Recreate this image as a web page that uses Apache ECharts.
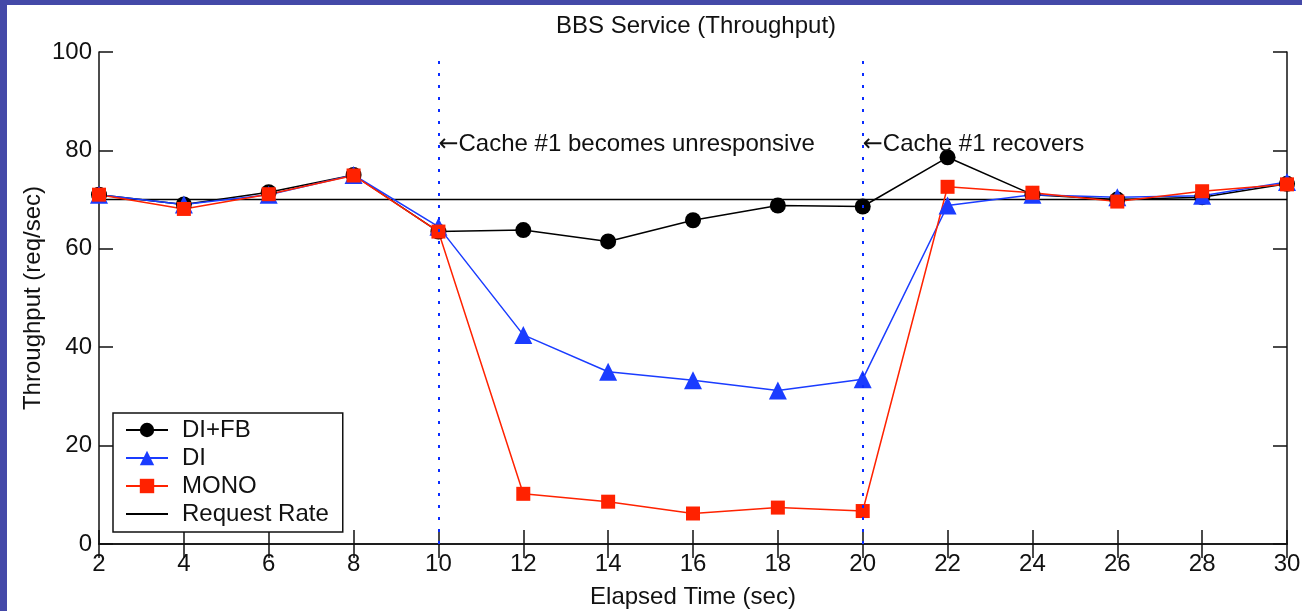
<!DOCTYPE html>
<html>
<head>
<meta charset="utf-8">
<script src="https://cdn.jsdelivr.net/npm/echarts@6/dist/echarts.min.js"></script>
<style>
html,body{margin:0;padding:0;background:#fff;overflow:hidden;}
#chart{width:1302px;height:611px;}
</style>
</head>
<body>
<div id="chart"></div>
<script>
const times = [2,4,6,8,10,12,14,16,18,20,22,24,26,28,30];
const diFb = [71,69,71.5,75,63.5,63.8,61.5,65.8,68.8,68.6,78.6,71,70,70.5,73.2];
const di   = [71,69,71,75,64.5,42.5,35,33.3,31.2,33.5,68.8,71,70.5,70.8,73.6];
const mono = [71,68.1,71.1,74.9,63.5,10.2,8.6,6.2,7.4,6.7,72.6,71.4,69.6,71.7,73.1];
const requestRate = 70;
const eventTimes = [10,20];
const eventLabels = ['Cache #1 becomes unresponsive','Cache #1 recovers'];
const eventLabelY = 81.2;
const xTicks = [2,4,6,8,10,12,14,16,18,20,22,24,26,28,30];
const yTicks = [0,20,40,60,80,100];

const FONT = 'Liberation Sans, Arial, sans-serif';
const chart = echarts.init(document.getElementById('chart'));
const pair = (xs, ys) => xs.map((x,i)=>[x, ys[i]]);

const axisCommon = {
  axisLine:{show:true,lineStyle:{color:'#111',width:1.5}},
  axisTick:{show:true,inside:true,length:14,lineStyle:{color:'#111',width:1.5}},
  splitLine:{show:false}
};

chart.setOption({
  backgroundColor:'#fff',
  animation:false,
  title:{text:'BBS Service (Throughput)',left:691,top:9,textAlign:'center',
    textStyle:{fontFamily:FONT,fontSize:24,fontWeight:'normal',color:'#111'}},
  grid:{left:99,right:15,top:52,bottom:67,containLabel:false,outerBoundsMode:'none'},
  graphic:[
    {type:'rect',shape:{x:0,y:0,width:1302,height:5},style:{fill:'#4449a8'},z:100},
    {type:'rect',shape:{x:0,y:0,width:7,height:611},style:{fill:'#4449a8'},z:100}
  ],
  legend:{
    orient:'vertical',left:113,top:413,
    padding:[5,14,6,12],itemGap:4,itemWidth:42,itemHeight:18,itemTextGap:14,
    backgroundColor:'#fff',borderColor:'#111',borderWidth:1.5,
    textStyle:{fontFamily:FONT,fontSize:24,color:'#111',lineHeight:24,padding:[0,0,0,9]},
    data:['DI+FB','DI','MONO',{name:'Request Rate',itemStyle:{opacity:0}}]
  },
  xAxis:[
    Object.assign({type:'value',min:2,max:30,interval:2,position:'bottom',
      name:'Elapsed Time (sec)',nameLocation:'middle',nameGap:41,nameMoveOverlap:false,
      nameTextStyle:{fontFamily:FONT,fontSize:24,color:'#111'},
      axisLabel:{fontFamily:FONT,fontSize:24,color:'#111',margin:8}},axisCommon),
    Object.assign({type:'value',min:2,max:30,interval:2,position:'top',
      axisLabel:{show:false}},axisCommon)
  ],
  yAxis:[
    Object.assign({type:'value',min:0,max:100,interval:20,position:'left',
      name:'Throughput (req/sec)',nameLocation:'middle',nameGap:54,nameMoveOverlap:false,
      nameTextStyle:{fontFamily:FONT,fontSize:24,color:'#111'},
      axisLabel:{fontFamily:FONT,fontSize:24,color:'#111',margin:7}},axisCommon),
    Object.assign({type:'value',min:0,max:100,interval:20,position:'right',
      axisLabel:{show:false}},axisCommon)
  ],
  series:[
    {name:'events',type:'line',data:[],silent:true,
      markLine:{symbol:['none','none'],silent:true,
        lineStyle:{color:'#0a2cff',type:[3,9],width:2},label:{show:false},
        data:eventTimes.map(t=>({xAxis:t}))},
      markPoint:{symbol:'circle',symbolSize:0,silent:true,
        label:{show:true,position:'right',distance:0,fontFamily:FONT,fontSize:24,color:'#111',
          rich:{a:{fontFamily:'DejaVu Sans',fontSize:24,color:'#111'}}},
        data:eventTimes.map((t,i)=>({coord:[t,eventLabelY],value:eventLabels[i],
          label:{formatter:'{a|\u2190}'+eventLabels[i]}}))}
    },
    {name:'DI+FB',type:'line',data:pair(times,diFb),color:'#000',
      symbol:'circle',symbolSize:16,lineStyle:{width:1.5,color:'#000'},itemStyle:{color:'#000'}},
    {name:'DI',type:'line',data:pair(times,di),color:'#1a3cff',
      symbol:'triangle',symbolSize:18,lineStyle:{width:1.5,color:'#1a3cff'},itemStyle:{color:'#1a3cff'}},
    {name:'MONO',type:'line',data:pair(times,mono),color:'#ff2200',
      symbol:'rect',symbolSize:14,lineStyle:{width:1.5,color:'#ff2200'},itemStyle:{color:'#ff2200'}},
    {name:'Request Rate',type:'line',data:[[xTicks[0],requestRate],[xTicks[xTicks.length-1],requestRate]],
      color:'#000',symbol:'none',lineStyle:{width:1.5,color:'#000'},z:1}
  ]
});
</script>
</body>
</html>
